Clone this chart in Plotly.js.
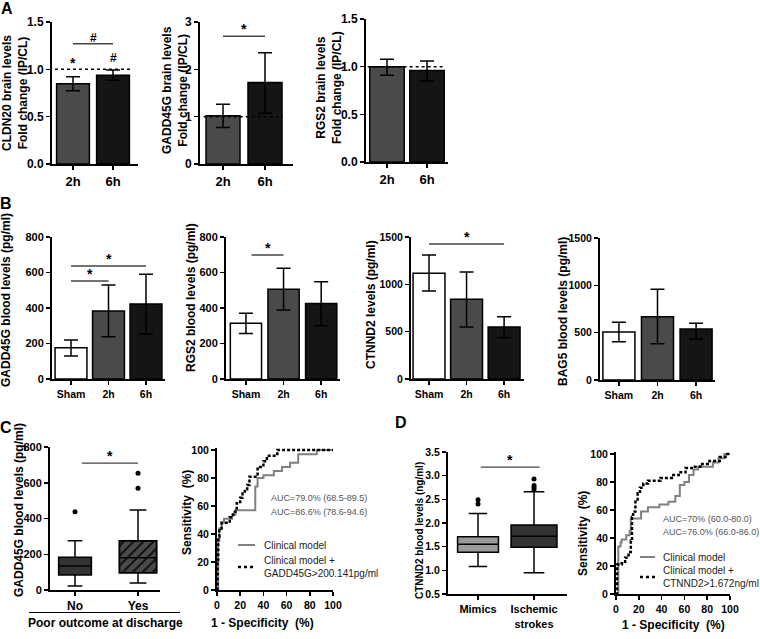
<!DOCTYPE html>
<html><head><meta charset="utf-8">
<script src="https://cdn.plot.ly/plotly-3.0.1.min.js"></script>
<style>html,body{margin:0;padding:0;background:#fff}#chart{width:760px;height:639px}</style>
</head><body><div id="chart"></div>
<script>
// ================= DATA =================
// Panel A: brain levels, fold change (IP/CL)
const brainCats = ['2h', '6h'];
const cldn20Brain = [0.848, 0.937];
const cldn20BrainErrUp = [0.074, 0.056];
const cldn20BrainErrDn = [0.074, 0.053];
const gadd45gBrain = [1.02, 1.72];
const gadd45gBrainErrUp = [0.24, 0.63];
const gadd45gBrainErrDn = [0.25, 0.65];
const rgs2Brain = [1.0, 0.96];
const rgs2BrainErrUp = [0.077, 0.10];
const rgs2BrainErrDn = [0.09, 0.11];

// Panel B: blood levels (pg/ml)
const bloodCats = ['Sham', '2h', '6h'];
const gadd45gBlood = [176, 383, 422];
const gadd45gBloodErrUp = [44, 147, 168];
const gadd45gBloodErrDn = [46, 145, 168];
const rgs2Blood = [314, 505, 426];
const rgs2BloodErrUp = [56, 119, 122];
const rgs2BloodErrDn = [57, 116, 126];
const ctnnd2Blood = [1116, 842, 549];
const ctnnd2BloodErrUp = [194, 288, 109];
const ctnnd2BloodErrDn = [186, 293, 113];
const bag5Blood = [507, 669, 539];
const bag5BloodErrUp = [102, 289, 60];
const bag5BloodErrDn = [102, 285, 106];

// Panel C: GADD45G box plot by poor outcome at discharge
const outcomeCats = ['No', 'Yes'];
const gaddMin = [22, 39];
const gaddQ1 = [84, 97];
const gaddMedian = [134, 181];
const gaddQ3 = [183, 276];
const gaddMax = [276, 448];
const gaddOutlierGroup = [0, 1, 1];
const gaddOutlierValue = [438, 569, 653];

// Panel C ROC (1-specificity %, sensitivity %), step vertices
const rocC_clinical_x = [0, 1, 2, 4, 6, 13, 16, 33, 35, 40, 49, 56, 63, 70, 86, 100];
const rocC_clinical_y = [0, 35, 44, 48, 51, 54, 57, 74, 80, 82, 85, 88, 91, 97, 100, 100];
const rocC_combined_x = [0, 0.5, 1, 2, 4, 11, 14, 17, 20, 22, 24, 26, 28, 35, 40, 43, 52, 100];
const rocC_combined_y = [0, 20, 38, 44, 48, 52, 56, 62, 66, 69, 72, 75, 81, 88, 92, 96, 100, 100];

// Panel D: CTNND2 box plot mimics vs ischemic strokes (ng/ml)
const strokeCats = ['Mimics', 'Ischemic<br>strokes'];
const ctnMin = [1.08, 0.95];
const ctnQ1 = [1.38, 1.49];
const ctnMedian = [1.55, 1.72];
const ctnQ3 = [1.71, 1.96];
const ctnMax = [2.20, 2.66];
const ctnOutlierGroup = [0, 0, 1, 1, 1, 1];
const ctnOutlierValue = [2.40, 2.49, 2.70, 2.75, 2.79, 2.93];

// Panel D ROC
const rocD_clinical_x = [0, 2, 4, 5, 9, 12, 13, 22, 28, 38, 46, 52, 56, 60, 64, 68, 72, 85, 90, 95, 100];
const rocD_clinical_y = [0, 34, 37, 39, 42, 45, 54, 59, 62, 64, 66, 70, 78, 80, 85, 89, 91, 94, 97, 100, 100];
const rocD_combined_x = [0, 1, 5, 8, 11, 13, 14, 15, 17, 19, 21, 24, 28, 39, 49, 55, 61, 68, 74, 82, 91, 96, 100];
const rocD_combined_y = [0, 21, 22, 26, 30, 38, 55, 59, 66, 72, 76, 79, 81, 83, 85, 87, 90, 91, 93, 95, 98, 100, 100];

const aucTextC = ['AUC=79.0% (68.5-89.5)', 'AUC=86.6% (78.6-94.6)'];
const aucTextD = ['AUC=70% (60.0-80.0)', 'AUC=76.0% (66.0-86.0)'];

// ================= LAYOUT HELPERS =================
const W = 760, H = 639;
const FONT = 'Liberation Sans, Arial, sans-serif';
const xd = (a, b) => [a / W, b / W];
const yd = (t, b) => [(H - b) / H, (H - t) / H];
const px = v => v / W;
const py = v => 1 - v / H;
const bf = (s) => ({family: FONT, size: s, color: '#000', weight: 'bold'});
const base = {showline: true, linecolor: '#000', linewidth: 2, ticks: 'outside', ticklen: 4,
  tickwidth: 1.5, tickcolor: '#000', showgrid: false, zeroline: false, fixedrange: true};

const layout = {width: W, height: H, margin: {l: 0, r: 0, t: 0, b: 0}, paper_bgcolor: '#fff',
  plot_bgcolor: 'rgba(0,0,0,0)', showlegend: false, shapes: [], annotations: [], font: {family: FONT}};
const data = [];

function axes(id, xpx, ypx, xopt, yopt) {
  const xs = id === 1 ? 'xaxis' : 'xaxis' + id, ys = id === 1 ? 'yaxis' : 'yaxis' + id;
  const xr = id === 1 ? 'x' : 'x' + id, yr = id === 1 ? 'y' : 'y' + id;
  layout[xs] = Object.assign({}, base, {domain: xd(xpx[0], xpx[1]), anchor: yr}, xopt);
  layout[ys] = Object.assign({}, base, {domain: yd(ypx[0], ypx[1]), anchor: xr}, yopt);
  return {x: xr, y: yr};
}
function ytitle(text, x, y, size) {
  layout.annotations.push({xref: 'paper', yref: 'paper', x: px(x), y: py(y), text: text, textangle: -90,
    showarrow: false, xanchor: 'center', yanchor: 'middle', font: bf(size)});
}
function ptext(text, x, y, font, xanchor) {
  layout.annotations.push({xref: 'paper', yref: 'paper', x: px(x), y: py(y), text: text,
    showarrow: false, xanchor: xanchor || 'center', yanchor: 'middle', font: font, align: 'left'});
}
function sig(ax, x0, x1, y, label, size) {
  layout.shapes.push({type: 'line', xref: ax.x, yref: ax.y, x0: x0, x1: x1, y0: y, y1: y,
    line: {color: '#444', width: 1.4}});
  layout.annotations.push({xref: ax.x, yref: ax.y, x: (x0 + x1) / 2, y: y, text: label, showarrow: false,
    yanchor: 'bottom', yshift: -3, font: bf(size || 14)});
}
function mark(ax, x, y, label, size) {
  layout.annotations.push({xref: ax.x, yref: ax.y, x: x, y: y, text: label, showarrow: false,
    yanchor: 'middle', font: bf(size || 14)});
}
const barColors3 = ['#ffffff', '#4a4a4a', '#151515'];
const barColors2 = ['#4a4a4a', '#151515'];
function bars(ax, cats, vals, up, dn, colors, widths) {
  const xs = cats.map((c, i) => i);
  data.push({type: 'bar', x: xs, y: vals, xaxis: ax.x, yaxis: ax.y, width: widths,
    marker: {color: colors, line: {color: '#000', width: 1.5}}, hoverinfo: 'skip',
    error_y: {type: 'data', array: up, arrayminus: dn, symmetric: false, color: '#000', thickness: 1.5, width: 7}});
}
function dotted(ax, y, f0, f1) {
  layout.shapes.push({type: 'line', xref: ax.x + ' domain', yref: ax.y, x0: f0, x1: f1, y0: y, y1: y,
    line: {color: '#000', width: 1.5, dash: 'dot'}});
}

// ================= PANEL A =================
const catAxis = (cats, range, size) => ({range: range, tickvals: cats.map((c, i) => i), ticktext: cats, tickfont: bf(size)});
const A1 = axes(1, [52, 138], [22, 164], catAxis(brainCats, [-0.525, 1.625], 13),
  {range: [0, 1.5], dtick: 0.5, tickformat: '.1f', tickfont: bf(12)});
bars(A1, brainCats, cldn20Brain, cldn20BrainErrUp, cldn20BrainErrDn, barColors2, [0.82, 0.82]);
dotted(A1, 1.0, 0.035, 0.94);
sig(A1, 0, 1, 1.27, '#', 12);
mark(A1, 0, 1.065, '*', 14);
mark(A1, 1, 1.12, '#', 12);

const A2 = axes(2, [200, 293], [22, 164], catAxis(brainCats, [-0.548, 1.667], 13),
  {range: [0, 3], dtick: 1, tickfont: bf(12)});
bars(A2, brainCats, gadd45gBrain, gadd45gBrainErrUp, gadd45gBrainErrDn, barColors2, [0.81, 0.81]);
dotted(A2, 1.0, 0.04, 0.89);
sig(A2, 0, 1, 2.70, '*', 14);

const A3 = axes(3, [366, 448], [19, 162], catAxis(brainCats, [-0.525, 1.525], 13),
  {range: [0, 1.5], dtick: 0.5, tickformat: '.1f', tickfont: bf(12)});
bars(A3, brainCats, rgs2Brain, rgs2BrainErrUp, rgs2BrainErrDn, barColors2, [0.86, 0.86]);
dotted(A3, 1.0, 0.02, 0.96);

ytitle('CLDN20 brain levels<br>Fold change (IP/CL)', 15, 93, 12);
ytitle('GADD45G brain levels<br>Fold change (IP/CL)', 175, 90, 12);
ytitle('RGS2 brain levels<br>Fold change (IP/CL)', 329, 88, 12);

// ================= PANEL B =================
const B1 = axes(4, [52, 165], [237, 379], catAxis(bloodCats, [-0.507, 2.507], 10.5),
  {range: [0, 800], dtick: 200, tickfont: bf(11)});
bars(B1, bloodCats, gadd45gBlood, gadd45gBloodErrUp, gadd45gBloodErrDn, barColors3, [0.85, 0.85, 0.85]);
sig(B1, 0, 1, 552, '*', 14);
sig(B1, 0, 2, 637, '*', 14);

const B2 = axes(5, [226, 340], [237, 379], catAxis(bloodCats, [-0.53, 2.5], 10.5),
  {range: [0, 800], dtick: 200, tickfont: bf(11)});
bars(B2, bloodCats, rgs2Blood, rgs2BloodErrUp, rgs2BloodErrDn, barColors3, [0.83, 0.83, 0.83]);
sig(B2, 0.15, 1, 699, '*', 14);

const B3 = axes(6, [411, 524], [237, 379], catAxis(bloodCats, [-0.48, 2.53], 10.5),
  {range: [0, 1500], dtick: 500, tickfont: bf(10.5)});
bars(B3, bloodCats, ctnnd2Blood, ctnnd2BloodErrUp, ctnnd2BloodErrDn, barColors3, [0.85, 0.85, 0.85]);
sig(B3, 0, 2, 1426, '*', 14);

const B4 = axes(7, [600, 715], [238, 380], catAxis(bloodCats, [-0.49, 2.49], 10.5),
  {range: [0, 1500], dtick: 500, tickfont: bf(10.5)});
bars(B4, bloodCats, bag5Blood, bag5BloodErrUp, bag5BloodErrDn, barColors3, [0.83, 0.83, 0.83]);

ytitle('GADD45G blood levels (pg/ml)', 6, 300, 12);
ytitle('RGS2 blood levels (pg/ml)', 191, 298, 12);
ytitle('CTNND2 levels (pg/ml)', 371, 305, 12);
ytitle('BAG5 blood levels (pg/ml)', 563, 312, 12);

// ================= PANEL C =================
const C1 = axes(8, [50, 160], [447, 590], catAxis(outcomeCats, [-0.397, 1.349], 12),
  {range: [0, 800], dtick: 200, tickfont: bf(11)});
// hatch fill for the "Yes" box
data.push({type: 'bar', x: [1], base: [gaddQ1[1]], y: [gaddQ3[1] - gaddQ1[1]], width: [0.59], xaxis: C1.x, yaxis: C1.y,
  marker: {color: '#4a4a4a', line: {color: '#000', width: 1.5},
    pattern: {shape: '/', fgcolor: '#111', bgcolor: '#4a4a4a', size: 7, solidity: 0.3}}, hoverinfo: 'skip'});
const cBoxFill = ['#333333', 'rgba(0,0,0,0)'];
const cBoxW = [0.52, 0.59];
outcomeCats.forEach((c, i) => {
  data.push({type: 'box', x: [i], q1: [gaddQ1[i]], median: [gaddMedian[i]], q3: [gaddQ3[i]],
    lowerfence: [gaddMin[i]], upperfence: [gaddMax[i]], width: cBoxW[i], whiskerwidth: 0.45,
    fillcolor: cBoxFill[i], line: {color: '#000', width: 1.5}, boxpoints: false, xaxis: C1.x, yaxis: C1.y, hoverinfo: 'skip'});
});
data.push({type: 'scatter', mode: 'markers', x: gaddOutlierGroup, y: gaddOutlierValue, xaxis: C1.x, yaxis: C1.y,
  marker: {size: 5, color: '#000'}, hoverinfo: 'skip'});
sig(C1, 0.11, 1, 710, '*', 14);
layout.shapes.push({type: 'line', xref: 'paper', yref: 'paper', x0: px(29), x1: px(180), y0: py(612.5), y1: py(612.5),
  line: {color: '#000', width: 1}});
ptext('Poor outcome at discharge', 106, 623, bf(12));
ytitle('GADD45G blood levels (pg/ml)', 19, 510, 12);

const rocTicks = {dtick: 20, tickfont: bf(10.5)};
const C2 = axes(9, [217, 333], [448, 590], Object.assign({range: [0, 100]}, rocTicks),
  Object.assign({range: [0, 101.5], tickvals: [0, 20, 40, 60, 80, 100]}, rocTicks));
data.push({type: 'scatter', mode: 'lines', x: rocC_clinical_x, y: rocC_clinical_y, xaxis: C2.x, yaxis: C2.y,
  line: {shape: 'hv', color: '#808080', width: 2}, hoverinfo: 'skip'});
data.push({type: 'scatter', mode: 'lines', x: rocC_combined_x, y: rocC_combined_y, xaxis: C2.x, yaxis: C2.y,
  line: {shape: 'hv', color: '#000', width: 2.5, dash: '3px,2px'}, hoverinfo: 'skip'});
ytitle('Sensitivity  (%)', 187, 513, 12);
ptext('1 - Specificity  (%)', 262, 623, bf(12));
const aucFont = {family: FONT, size: 9, color: '#555'};
ptext(aucTextC[0], 269, 498, aucFont, 'left');
ptext(aucTextC[1], 269, 512, aucFont, 'left');
const legFont = {family: FONT, size: 10, color: '#222'};
layout.shapes.push({type: 'line', xref: 'paper', yref: 'paper', x0: px(238), x1: px(255), y0: py(545), y1: py(545),
  line: {color: '#808080', width: 2}});
ptext('Clinical model', 262, 545, legFont, 'left');
layout.shapes.push({type: 'line', xref: 'paper', yref: 'paper', x0: px(238), x1: px(255), y0: py(567), y1: py(567),
  line: {color: '#000', width: 2.5, dash: '3px,3px'}});
ptext('Clinical model +<br>GADD45G>200.141pg/ml', 262, 567, legFont, 'left');

// ================= PANEL D =================
const D1 = axes(10, [448, 567], [452, 594], catAxis(strokeCats, [-0.536, 1.589], 11),
  {range: [0.5, 3.5], dtick: 0.5, tickformat: '.1f', tickfont: bf(10.5)});
const dBoxFill = ['#9a9a9a', '#333333'];
const dBoxW = [0.73, 0.82];
strokeCats.forEach((c, i) => {
  data.push({type: 'box', x: [i], q1: [ctnQ1[i]], median: [ctnMedian[i]], q3: [ctnQ3[i]],
    lowerfence: [ctnMin[i]], upperfence: [ctnMax[i]], width: dBoxW[i], whiskerwidth: 0.45,
    fillcolor: dBoxFill[i], line: {color: '#000', width: 1.5}, boxpoints: false, xaxis: D1.x, yaxis: D1.y, hoverinfo: 'skip'});
});
data.push({type: 'scatter', mode: 'markers', x: ctnOutlierGroup, y: ctnOutlierValue, xaxis: D1.x, yaxis: D1.y,
  marker: {size: 5, color: '#000'}, hoverinfo: 'skip'});
sig(D1, 0.05, 1.1, 3.18, '*', 14);
ytitle('CTNND2 blood levels (ng/ml)', 419, 531, 10);

const D2 = axes(11, [616, 730], [452, 594], Object.assign({range: [0, 100]}, rocTicks),
  Object.assign({range: [0, 101.5], tickvals: [0, 20, 40, 60, 80, 100]}, rocTicks));
data.push({type: 'scatter', mode: 'lines', x: rocD_clinical_x, y: rocD_clinical_y, xaxis: D2.x, yaxis: D2.y,
  line: {shape: 'hv', color: '#808080', width: 2}, hoverinfo: 'skip'});
data.push({type: 'scatter', mode: 'lines', x: rocD_combined_x, y: rocD_combined_y, xaxis: D2.x, yaxis: D2.y,
  line: {shape: 'hv', color: '#000', width: 2.5, dash: '3px,2px'}, hoverinfo: 'skip'});
ytitle('Sensitivity  (%)', 583, 534, 12);
ptext('1 - Specificity  (%)', 673, 625, bf(12));
const aucFontD = {family: FONT, size: 9, color: '#555'};
ptext(aucTextD[0], 661, 519, aucFontD, 'left');
ptext(aucTextD[1], 661, 532, aucFontD, 'left');
layout.shapes.push({type: 'line', xref: 'paper', yref: 'paper', x0: px(640), x1: px(655), y0: py(557), y1: py(557),
  line: {color: '#808080', width: 2}});
ptext('Clinical model', 661, 557, legFont, 'left');
layout.shapes.push({type: 'line', xref: 'paper', yref: 'paper', x0: px(640), x1: px(655), y0: py(577), y1: py(577),
  line: {color: '#000', width: 2.5, dash: '3px,3px'}});
ptext('Clinical model +<br>CTNND2>1.672ng/ml', 661, 577, legFont, 'left');

// ================= PANEL LETTERS =================
ptext('A', 7, 9, bf(16));
ptext('B', 6, 204, bf(16));
ptext('C', 6, 427, bf(16));
ptext('D', 401, 422, bf(16));

Plotly.newPlot('chart', data, layout, {staticPlot: true, displayModeBar: false});
</script></body></html>
